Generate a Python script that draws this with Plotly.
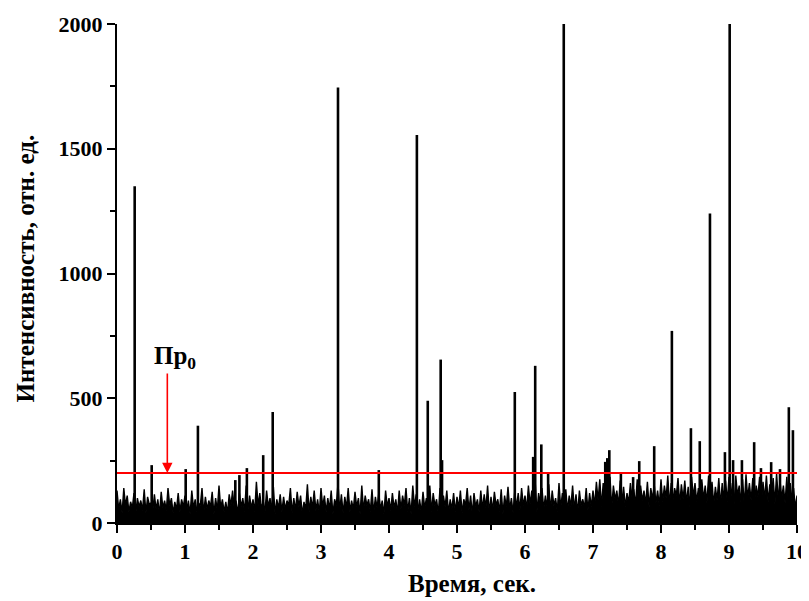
import plotly.graph_objects as go

# noise: peaks every 0.05 s, band level in between
noise_hi = [
    130, 95, 140, 110, 85, 120, 100, 90, 135, 105, 80, 115, 95, 125, 90, 140, 100, 85, 120, 95,
    110, 90, 130, 95, 80, 140, 105, 90, 125, 100, 150, 95, 85, 115, 130, 90, 120, 100, 150, 110,
    95, 165, 120, 90, 130, 100, 145, 95, 115, 105, 90, 140, 100, 125, 110, 85, 155, 105, 130, 95,
    140, 110, 100, 130, 95, 160, 115, 105, 140, 90, 125, 100, 150, 110, 95, 135, 105, 120, 90, 130,
    100, 120, 95, 130, 110, 140, 100, 150, 115, 95, 125, 100, 150, 120, 95, 140, 110, 130, 95, 120,
    105, 130, 95, 140, 110, 120, 95, 130, 115, 150, 105, 125, 95, 135, 110, 145, 100, 130, 120, 140,
    110, 150, 130, 165, 120, 140, 110, 155, 130, 100, 160, 120, 135, 110, 150, 115, 130, 95, 140, 120,
    130, 165, 175, 160, 140, 185, 150, 130, 170, 145, 120, 160, 135, 175, 150, 130, 165, 140, 155, 130,
    175, 150, 190, 160, 140, 180, 155, 170, 145, 185, 160, 140, 175, 150, 190, 165, 145, 180, 160, 170,
    185, 160, 190, 150, 175, 195, 160, 180, 150, 185, 165, 190, 155, 180, 200, 170, 150, 185, 160, 140,
    110,
]
noise_lo = [
    55, 40, 70, 45, 60, 35, 65, 50, 40, 75, 45, 55, 35, 60, 50, 70, 40, 55, 45, 65,
    50, 35, 60, 45, 70, 40, 55, 65, 35, 50, 60, 45, 40, 70, 55, 35, 65, 45, 50, 60,
    45, 70, 55, 40, 65, 50, 35, 60, 45, 55, 70, 40, 50, 65, 35, 55, 45, 60, 50, 40,
    65, 45, 55, 35, 70, 50, 40, 60, 45, 55, 65, 35, 50, 70, 45, 40, 60, 55, 35, 65,
    50, 60, 40, 55, 70, 45, 35, 65, 50, 40, 60, 55, 45, 70, 35, 50, 65, 40, 55, 45,
    60, 40, 70, 50, 35, 65, 45, 55, 60, 40, 50, 70, 45, 35, 65, 55, 40, 60, 50, 70,
    55, 75, 60, 45, 80, 55, 65, 50, 70, 45, 60, 75, 50, 65, 55, 40, 70, 60, 50, 65,
    70, 90, 65, 100, 75, 60, 95, 70, 85, 65, 80, 100, 70, 60, 90, 75, 65, 95, 80, 70,
    85, 100, 70, 90, 110, 75, 95, 80, 65, 105, 85, 70, 95, 80, 110, 75, 90, 70, 100, 85,
    95, 75, 110, 85, 70, 100, 90, 80, 105, 70, 95, 85, 110, 75, 90, 100, 80, 70, 95, 60,
]

# isolated spikes (time, intensity)
spike_t = [0.26, 0.51, 1.01, 1.19, 1.74, 1.80, 1.91, 2.15, 2.29, 3.25, 3.85, 4.41, 4.57, 4.76, 4.78,
           5.85, 6.12, 6.15, 6.24, 6.34, 6.57, 7.18, 7.21, 7.24, 7.41, 7.59, 7.68, 7.90, 8.16, 8.44,
           8.57, 8.72, 8.94, 9.01, 9.06, 9.19, 9.37, 9.47, 9.62, 9.75, 9.88, 9.94]
spike_v = [1350, 232, 216, 390, 172, 192, 220, 272, 445, 1745, 212, 1555, 490, 655, 252,
           525, 265, 630, 315, 200, 2100, 245, 260, 292, 204, 184, 248, 308, 770, 380,
           328, 1240, 284, 2100, 252, 252, 324, 220, 244, 216, 464, 372]

threshold = 200
x_ticks = [0, 1, 2, 3, 4, 5, 6, 7, 8, 9, 10]
y_ticks = [0, 500, 1000, 1500, 2000]

noise_t, noise_v = [], []
for i, h in enumerate(noise_hi):
    noise_t.append(i * 0.05)
    noise_v.append(h)
    if i < len(noise_lo):
        noise_t.append(i * 0.05 + 0.025)
        noise_v.append(noise_lo[i])

sx, sy = [], []
for t, v in zip(spike_t, spike_v):
    sx += [t, t, None]
    sy += [0, v, None]

fig = go.Figure()
fig.add_trace(go.Scatter(x=noise_t, y=noise_v, mode="lines", fill="tozeroy", fillcolor="black",
                         line=dict(color="black", width=1.4), hoverinfo="skip"))
fig.add_trace(go.Scatter(x=sx, y=sy, mode="lines",
                         line=dict(color="black", width=2.6), hoverinfo="skip"))
fig.add_trace(go.Scatter(x=[0, 10], y=[threshold, threshold], mode="lines",
                         line=dict(color="red", width=2), hoverinfo="skip"))

fig.add_annotation(x=0.74, y=threshold, ax=0.74, ay=605, xref="x", yref="y",
                   axref="x", ayref="y", text="", showarrow=True,
                   arrowhead=2, arrowsize=1.3, arrowwidth=1.6, arrowcolor="red")
fig.add_annotation(x=0.85, y=665, xref="x", yref="y", showarrow=False,
                   text="<b>Пр<sub>0</sub></b>",
                   font=dict(family="Liberation Serif", size=25, color="black"))

title_font = dict(family="Liberation Serif", size=25, color="black")
fig.add_annotation(x=0.5, y=0, xref="paper", yref="paper", xshift=15, yshift=-60,
                   yanchor="middle", xanchor="center", showarrow=False,
                   text="<b>Время, сек.</b>", font=title_font)
fig.add_annotation(x=0, y=0.5, xref="paper", yref="paper", xshift=-92, yshift=5,
                   yanchor="middle", xanchor="center", textangle=-90, showarrow=False,
                   text="<b>Интенсивность, отн. ед.</b>", font=title_font)

# page body adds an 8 px offset, so the figure is 8 px smaller than the window
fig.update_layout(
    width=801, height=593,
    margin=dict(l=109, r=12, t=16, b=78),
    plot_bgcolor="white", paper_bgcolor="white",
    showlegend=False,
    font=dict(family="Liberation Serif", size=22, color="black"),
)
fig.update_xaxes(
    range=[0, 10], tickvals=x_ticks, ticktext=[f"<b>{t}</b>" for t in x_ticks],
    automargin=False,
    showgrid=False, zeroline=False, showline=True, linecolor="black", linewidth=2,
    ticks="outside", ticklen=8, tickwidth=2, tickcolor="black",
    minor=dict(dtick=0.5, ticks="outside", ticklen=5, tickwidth=2, tickcolor="black"),
)
fig.update_yaxes(
    range=[0, 2000], tickvals=y_ticks, ticktext=[f"<b>{t}</b>" for t in y_ticks],
    automargin=False,
    showgrid=False, zeroline=False, showline=True, linecolor="black", linewidth=2,
    ticks="outside", ticklen=8, tickwidth=2, tickcolor="black",
    minor=dict(dtick=250, ticks="outside", ticklen=5, tickwidth=2, tickcolor="black"),
)

fig.write_html("out.html")
